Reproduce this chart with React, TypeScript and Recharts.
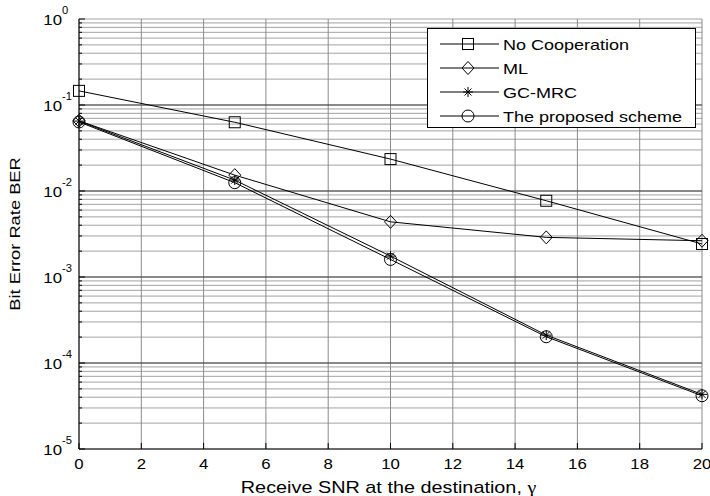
import { CartesianGrid, Legend, Line, LineChart, ReferenceLine, XAxis, YAxis } from 'recharts'

const snr = [0, 5, 10, 15, 20]
const noCoop = [0.146, 0.063, 0.0235, 0.0077, 0.00242]
const ml = [0.0655, 0.0153, 0.00438, 0.00289, 0.00264]
const gcMrc = [0.065, 0.0134, 0.00175, 0.000211, 0.0000432]
const proposed = [0.0635, 0.0125, 0.0016, 0.000202, 0.0000416]

const xTicks = [0, 2, 4, 6, 8, 10, 12, 14, 16, 18, 20]
const decades = [1e-5, 1e-4, 1e-3, 1e-2, 1e-1, 1]
const minorSteps = [1, 2, 3, 4, 5, 6, 7, 8, 9]

const seriesList = [
  { key: 'noCoop', name: 'No Cooperation', shape: 'square' },
  { key: 'ml', name: 'ML', shape: 'diamond' },
  { key: 'gcMrc', name: 'GC-MRC', shape: 'star' },
  { key: 'proposed', name: 'The proposed scheme', shape: 'circle' },
]

const data = snr.map((s, i) => ({
  snr: s,
  noCoop: noCoop[i],
  ml: ml[i],
  gcMrc: gcMrc[i],
  proposed: proposed[i],
}))

// every decade plus its 2..9 minors, for grid lines and small ticks
const yTicks: number[] = []
decades.slice(0, -1).forEach((d) => minorSteps.forEach((m) => yTicks.push(Number((d * m).toPrecision(3)))))
yTicks.push(1)

const FONT = '"Liberation Sans", Arial, sans-serif'

const isDecade = (v: number) => Math.abs(Math.log10(v) - Math.round(Math.log10(v))) < 1e-6

function Marker({ shape, cx, cy }: { shape: string; cx: number; cy: number }) {
  const st = { fill: 'none', stroke: '#000', strokeWidth: 1 }
  if (shape === 'square') return <rect x={cx - 5.5} y={cy - 5.5} width={11} height={11} {...st} />
  if (shape === 'diamond')
    return <polygon points={`${cx},${cy - 6.5} ${cx + 6},${cy} ${cx},${cy + 6.5} ${cx - 6},${cy}`} {...st} />
  if (shape === 'circle') return <circle cx={cx} cy={cy} r={6} {...st} />
  return (
    <g {...st}>
      <line x1={cx - 5} x2={cx + 5} y1={cy} y2={cy} />
      <line x1={cx} x2={cx} y1={cy - 5} y2={cy + 5} />
      <line x1={cx - 3.5} x2={cx + 3.5} y1={cy - 3.5} y2={cy + 3.5} />
      <line x1={cx - 3.5} x2={cx + 3.5} y1={cy + 3.5} y2={cy - 3.5} />
    </g>
  )
}

function YTickLeft(props: any) {
  const { x, y, payload } = props
  const v = payload.value
  const major = isDecade(v)
  return (
    <g>
      <line x1={x} x2={x + (major ? 6 : 3)} y1={y} y2={y} stroke="#000" />
      {major && (
        <g transform={`translate(${x - 17},${y}) scale(1.12,1)`} fontFamily={FONT} fill="#000">
          <text x={0} y={5.5} textAnchor="end" fontSize={15}>
            10
          </text>
          <text x={0} y={-5} fontSize={10}>
            {Math.round(Math.log10(v))}
          </text>
        </g>
      )}
    </g>
  )
}

function YTickRight(props: any) {
  const { x, y, payload } = props
  return <line x1={x} x2={x - (isDecade(payload.value) ? 6 : 3)} y1={y} y2={y} stroke="#000" />
}

function XTickBottom(props: any) {
  const { x, y, payload } = props
  return (
    <g>
      <line x1={x} x2={x} y1={y} y2={y - 6} stroke="#000" />
      <text
        transform={`translate(${x},${y + 20}) scale(1.12,1)`}
        textAnchor="middle"
        fontSize={15}
        fontFamily={FONT}
        fill="#000"
      >
        {payload.value}
      </text>
    </g>
  )
}

function XTickTop(props: any) {
  const { x, y } = props
  return <line x1={x} x2={x} y1={y} y2={y + 6} stroke="#000" />
}

function LegendBox() {
  return (
    <div
      style={{
        border: '1px solid #000',
        background: '#fff',
        width: 269,
        height: 100,
        boxSizing: 'border-box',
        paddingTop: 3,
        fontFamily: FONT,
        fontSize: 15,
        color: '#000',
      }}
    >
      {seriesList.map((s) => (
        <div key={s.key} style={{ display: 'flex', alignItems: 'center', height: 24 }}>
          <svg width={74} height={16} style={{ marginLeft: 10, flex: 'none' }}>
            <line x1={2} x2={61} y1={8} y2={8} stroke="#000" />
            <Marker shape={s.shape} cx={30} cy={8} />
          </svg>
          <span
            style={{
              display: 'inline-block',
              transform: 'scaleX(1.2)',
              transformOrigin: 'left center',
              whiteSpace: 'nowrap',
              marginLeft: -9,
            }}
          >
            {s.name}
          </span>
        </div>
      ))}
    </div>
  )
}

export default function App() {
  return (
    <div style={{ position: 'absolute', left: 0, top: 0, background: '#fff' }}>
      <LineChart width={710} height={496} data={data} margin={{ top: 19, right: 8, bottom: 0, left: 0 }}>
        <CartesianGrid stroke="#a2a2a2" horizontal vertical={false} />
        <CartesianGrid stroke="#8a8a8a" horizontal={false} vertical />
        <XAxis
          dataKey="snr"
          type="number"
          domain={[0, 20]}
          ticks={xTicks}
          interval={0}
          height={47}
          tickSize={0}
          tickMargin={0}
          tickLine={false}
          axisLine={{ stroke: '#000' }}
          tick={<XTickBottom />}
          label={{
            content: (lp: any) => {
              const vb = lp.viewBox
              return (
                <text
                  transform={`translate(${vb.x + vb.width / 2 - 2},${vb.y + 44}) scale(1.24,1)`}
                  textAnchor="middle"
                  fontSize={16}
                  fontFamily={FONT}
                  fill="#000"
                >
                  Receive SNR at the destination,{' '}
                  <tspan fontFamily='"Liberation Serif", serif'>γ</tspan>
                </text>
              )
            },
          }}
        />
        <XAxis
          xAxisId="t"
          orientation="top"
          type="number"
          domain={[0, 20]}
          ticks={xTicks}
          interval={0}
          height={0}
          tickSize={0}
          tickMargin={0}
          tickLine={false}
          axisLine={{ stroke: '#000' }}
          tick={<XTickTop />}
        />
        <YAxis
          type="number"
          scale="log"
          domain={[1e-5, 1]}
          allowDataOverflow
          ticks={yTicks}
          interval={0}
          width={79}
          tickSize={0}
          tickMargin={0}
          tickLine={false}
          axisLine={{ stroke: '#000' }}
          tick={<YTickLeft />}
          label={{
            content: (lp: any) => {
              const vb = lp.viewBox
              return (
                <text
                  transform={`translate(${vb.x + 15},${vb.y + vb.height / 2}) rotate(-90) scale(1.22,1)`}
                  textAnchor="middle"
                  dominantBaseline="central"
                  fontSize={15}
                  fontFamily={FONT}
                  fill="#000"
                >
                  Bit Error Rate BER
                </text>
              )
            },
          }}
        />
        <YAxis
          yAxisId="r"
          orientation="right"
          type="number"
          scale="log"
          domain={[1e-5, 1]}
          allowDataOverflow
          ticks={yTicks}
          interval={0}
          width={0}
          tickSize={0}
          tickMargin={0}
          tickLine={false}
          axisLine={{ stroke: '#000' }}
          tick={<YTickRight />}
        />
        {decades.slice(1, -1).map((d) => (
          <ReferenceLine key={d} y={d} stroke="#404040" />
        ))}
        {seriesList.map((s) => (
          <Line
            key={s.key}
            dataKey={s.key}
            name={s.name}
            type="linear"
            stroke="#000"
            strokeWidth={1}
            isAnimationActive={false}
            dot={(p: any) => <Marker key={`${s.key}-${p.index}`} shape={s.shape} cx={p.cx} cy={p.cy} />}
            activeDot={false}
          />
        ))}
        <Legend
          layout="vertical"
          align="center"
          verticalAlign="middle"
          content={<LegendBox />}
          wrapperStyle={{ left: 427, top: 28, width: 269, height: 100 }}
        />
      </LineChart>
    </div>
  )
}
